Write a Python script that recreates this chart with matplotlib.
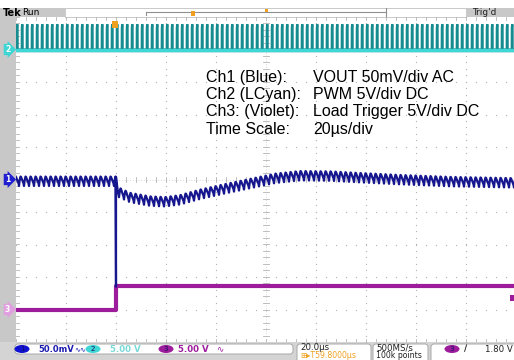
import numpy as np
import matplotlib.pyplot as plt
from matplotlib.patches import Rectangle, FancyBboxPatch, Ellipse

# scope setup: 20 us/div, 10 x 10 divisions
t_per_div = 20.0
n_hdiv, n_vdiv = 10, 10
t_load = 40.0  # load step instant (us)

# Ch2 PWM, in divisions: baseline and one switching period
pwm_base = 4.0
pwm_period = 2.0
pwm_shape_t = [0.0, 0.30, 0.34, 0.48, 0.62, 0.66, 2.0]
pwm_shape_v = [0.0, 0.0, 0.66, 0.78, 0.72, 0.0, 0.0]

# Ch1 VOUT envelope (us, div) and ripple over one switching period
vout_t = [0, 40, 40.8, 45.6, 53.6, 59.6, 65.6, 73.6, 83.6, 93.6, 103.6,
          113.6, 125.6, 137.6, 153.6, 173.6, 200]
vout_v = [-0.05, -0.05, -0.38, -0.55, -0.66, -0.68, -0.62, -0.45, -0.28, -0.12,
          0.04, 0.12, 0.11, 0.06, 0.0, -0.06, -0.1]
vout_spike = -3.3
ripple_v = [0.13, 0.09, 0.05, 0.01, -0.03, -0.07, -0.15, -0.02, 0.08, 0.14]

# Ch3 load trigger (div)
load_t = [0, 40, 40, 200]
load_v = [-4.0, -4.0, -3.28, -3.28]
trig_level = -3.64

notes = [("Ch1 (Blue):", "VOUT 50mV/div AC"),
         ("Ch2 (LCyan):", "PWM 5V/div DC"),
         ("Ch3: (Violet):", "Load Trigger 5V/div DC"),
         ("Time Scale:", "20\u00b5s/div")]

C_BLUE = "#16168f"
C_CYAN = "#3fd6d6"
C_TEAL = "#168c90"
C_VIOLET = "#9c1c9c"
C_GRID = "#b4b4b4"
C_ORANGE = "#f0a020"

W, H = 514, 360
fig = plt.figure(figsize=(W / 100, H / 100), dpi=100)

# background layer in pixel coords
bg = fig.add_axes([0, 0, 1, 1])
bg.set_xlim(0, W)
bg.set_ylim(H, 0)
bg.axis("off")

# graticule
x0, y_top, y_bot = 16, 17, 342
tmax = n_hdiv * t_per_div
ax = fig.add_axes([x0 / W, (H - y_bot) / H, 500 / W, (y_bot - y_top) / H])
ax.set_xlim(0, tmax)
ax.set_ylim(-n_vdiv / 2, n_vdiv / 2)
ax.axis("off")
ax.set_zorder(1)

top = fig.add_axes([0, 0, 1, 1])
top.set_xlim(0, W)
top.set_ylim(H, 0)
top.axis("off")
top.set_zorder(3)
top.patch.set_alpha(0)

# --- grid dots
ys = np.arange(-5, 5.01, 0.2)
xs = np.arange(0, tmax + 0.1, 4)
for i in range(1, n_hdiv):
    if i == n_hdiv // 2:
        continue
    ax.plot(np.full_like(ys, i * t_per_div), ys, ls="none", marker="s",
            ms=0.8, color=C_GRID, mew=0)
for j in range(-4, 5):
    if j == 0:
        continue
    ax.plot(xs, np.full_like(xs, j, dtype=float), ls="none", marker="s",
            ms=0.8, color=C_GRID, mew=0)

# center crosshair and edge ticks
ax.plot([0, tmax], [0, 0], color=C_GRID, lw=0.5, ls=(0, (1, 3)))
ax.plot([100, 100], [-5, 5], color=C_GRID, lw=0.5, ls=(0, (1, 3)))
for xv in xs:
    ax.plot([xv, xv], [-0.08, 0.08], color=C_GRID, lw=0.6)
    ax.plot([xv, xv], [4.9, 5.0], color=C_GRID, lw=0.6)
    ax.plot([xv, xv], [-5.0, -4.9], color=C_GRID, lw=0.6)
for yv in ys:
    ax.plot([98.8, 101.2], [yv, yv], color=C_GRID, lw=0.6)
    ax.plot([0, 1.2], [yv, yv], color=C_GRID, lw=0.6)

# --- Ch2 PWM
n_per = int(tmax / pwm_period)
t_pwm = np.concatenate([k * pwm_period + np.array(pwm_shape_t) for k in range(n_per)])
v_pwm = pwm_base + np.tile(pwm_shape_v, n_per)
ax.plot(t_pwm, v_pwm, color=C_TEAL, lw=1.6, solid_joinstyle="miter")
ax.plot([0, tmax], [pwm_base - 0.05, pwm_base - 0.05], color=C_TEAL, lw=1.0)
ax.plot([0, tmax], [pwm_base, pwm_base], color=C_CYAN, lw=2.4)

# --- Ch3 load trigger
ax.plot(load_t, load_v, color=C_VIOLET, lw=3.0, solid_capstyle="butt")

# --- Ch1 VOUT
step = pwm_period / len(ripple_v)
t_r = np.arange(0, tmax - step / 2, step)
v_r = np.interp(t_r, vout_t, vout_v) + np.tile(ripple_v, n_per)
pre = t_r < t_load
t_blue = np.concatenate([t_r[pre], [t_load, t_load], t_r[~pre]])
v_blue = np.concatenate([v_r[pre], [vout_spike, -0.3], v_r[~pre]])
ax.plot(t_blue, v_blue, color=C_BLUE, lw=1.6)

# --- left strip and channel markers
bg.add_patch(Rectangle((0, 8), 15.5, y_bot - 8, color="#c8c8c8", lw=0))


def ch_marker(y, label, face, fg):
    top.text(7.5, y, label, ha="center", va="center", fontsize=5.5,
             color=fg, fontweight="bold",
             bbox=dict(boxstyle="rarrow,pad=0.15", fc=face, ec="none"))


def px_y(v):
    return y_top + (n_vdiv / 2 - v) * (y_bot - y_top) / n_vdiv


ch_marker(px_y(pwm_base), "2", C_CYAN, "white")
ch_marker(px_y(0), "1", "#2020d0", "white")
ch_marker(px_y(load_v[0]), "3", "#e0a0e0", "white")
top.add_patch(Rectangle((510, px_y(trig_level) - 3), 4, 6, color=C_VIOLET, lw=0))

# --- header bar
bg.add_patch(Rectangle((0, 8), 65, 9, color="#c8c8c8", lw=0))
bg.add_patch(Rectangle((65, 8), 401, 9, fc="white", ec="#c0c0c0", lw=0.6))
bg.add_patch(Rectangle((466, 8), 48, 9, color="#c8c8c8", lw=0))
top.text(3, 12.8, "Tek", fontsize=7, fontweight="bold", va="center")
top.text(22, 12.8, "Run", fontsize=6.5, va="center")
top.text(472, 12.8, "Trig'd", fontsize=6.5, va="center", color="#202020")
bg.plot([146, 386], [11.5, 11.5], color="#909090", lw=0.8)
bg.plot([146, 146], [11.5, 14.5], color="#909090", lw=0.8)
bg.plot([386, 386], [8, 17], color="#909090", lw=0.8)
top.add_patch(Rectangle((191, 10.5), 4, 5, color=C_ORANGE, lw=0))
top.add_patch(Rectangle((264.5, 8.5), 3, 3, color=C_ORANGE, lw=0))
top.add_patch(Rectangle((112, 21), 6, 7, color=C_ORANGE, lw=0))

# --- annotation block
for i, (lab, val) in enumerate(notes):
    yb = 82 + 17.2 * i
    top.text(206, yb, lab, family="Liberation Sans", fontsize=11.5, va="baseline")
    top.text(313, yb, val, family="Liberation Sans", fontsize=11.5, va="baseline")

# --- status bar
bg.add_patch(Rectangle((0, y_bot), W, H - y_bot, color="#d4d4d4", lw=0))
bg.add_patch(FancyBboxPatch((15, 344), 278, 10, boxstyle="round,pad=0,rounding_size=3",
                            fc="white", ec="#a8a8a8", lw=0.7))
for (bx, bw) in [(297, 74), (373, 55), (431, 90)]:
    bg.add_patch(FancyBboxPatch((bx, 344), bw, 22, boxstyle="round,pad=0,rounding_size=3",
                                fc="white", ec="#a8a8a8", lw=0.7))
fs = 6.2
for cx, lab, face in [(22, "1", "#1010d0"), (93, "2", C_CYAN), (166, "3", C_VIOLET),
                      (452, "3", C_VIOLET)]:
    top.add_patch(Ellipse((cx, 349), 15, 8, color=face, lw=0))
    top.text(cx, 349, lab, ha="center", va="center", fontsize=5, color="#101060")
top.text(38, 349, "50.0mV", fontsize=6, va="center", color="#1a1ab0", fontweight="bold")
top.text(74, 349, "\u223f\u223f", fontsize=5, va="center", color="#1a1ab0")
top.text(110, 349, "5.00 V", fontsize=fs, va="center", color="#7adada", fontweight="bold")
top.text(178, 349, "5.00 V", fontsize=fs, va="center", color=C_VIOLET, fontweight="bold")
top.text(216, 349, "\u223f", fontsize=fs, va="center", color=C_VIOLET)
top.text(300, 348, "20.0\u00b5s", fontsize=fs, va="center", color="#202020")
top.text(300, 355.5, "\u229e\u25b8T59.8000\u00b5s", fontsize=5.6, va="center", color=C_ORANGE)
top.text(376, 348, "500MS/s", fontsize=fs, va="center", color="#202020")
top.text(376, 355.5, "100k points", fontsize=5.6, va="center", color="#202020")
top.text(464, 349, "\u2215", fontsize=fs, va="center", color="#202020", fontweight="bold")
top.text(485, 349, "1.80 V", fontsize=fs, va="center", color="#202020")

fig.savefig("out.png", dpi=100)
